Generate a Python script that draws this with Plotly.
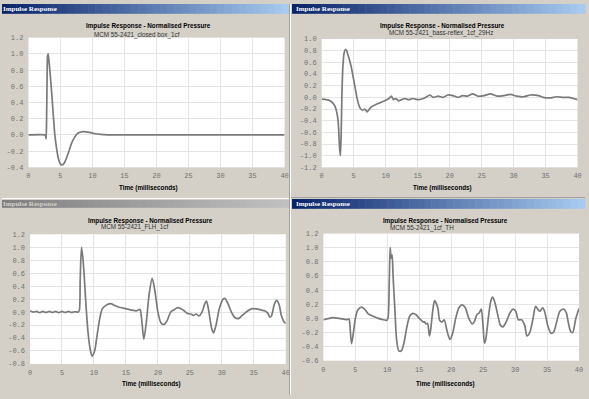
import plotly.graph_objects as go

W, H = 589, 399

# ---------------- data ----------------
t_closed = [0, 2.6, 2.7, 2.76, 2.82, 2.9, 2.98, 3.08, 3.16, 3.3, 3.45, 3.65, 3.85, 4.1, 4.4, 4.7, 5.0, 5.3, 5.65,
            6.2, 6.7, 7.2, 7.7, 8.5, 9.3, 10.3, 11.3, 12.3, 40]
p_closed = [0, 0, -0.02, -0.05, 0.1, 0.6, 0.97, 1.0, 0.95, 0.84, 0.7, 0.5, 0.28, 0.02, -0.17, -0.3, -0.36, -0.37, -0.34,
            -0.23, -0.11, -0.03, 0.02, 0.04, 0.035, 0.018, 0.006, 0.0, 0.0]

t_reflex = [0, 0.7, 1.3, 1.75, 2.1, 2.4, 2.6, 2.8, 2.93, 3.05, 3.15, 3.3, 3.5, 3.7, 3.9, 4.1, 4.4, 4.6, 4.9, 5.2,
            5.5, 5.8, 6.1, 6.4, 6.7, 6.9, 7.1, 7.4, 7.8, 8.3, 8.9, 9.4, 10.0, 10.5, 10.9, 11.2, 11.6, 12.0, 12.5,
            13.0, 13.6, 14.2, 15.1, 16.1, 16.9, 17.4, 18.2, 19.0, 19.7, 20.5, 21.3, 22.0, 22.8, 23.6, 24.4, 25.4,
            26.4, 27.4, 28.5, 29.5, 30.5, 31.6, 32.6, 33.9, 34.6, 35.7, 36.7, 37.7, 38.7, 40]
p_reflex = [-0.03, -0.04, -0.06, -0.1, -0.16, -0.28, -0.45, -0.88, -1.0, -0.6, 0.0, 0.5, 0.76, 0.82, 0.8, 0.73,
            0.62, 0.53, 0.36, 0.18, 0.0, -0.13, -0.2, -0.22, -0.2, -0.22, -0.25, -0.21, -0.16, -0.13, -0.1, -0.08,
            -0.05, -0.02, 0.02, -0.04, -0.02, -0.06, -0.04, -0.02, -0.04, -0.02, -0.04, -0.01, 0.04, 0.0, 0.02,
            0.0, 0.04, 0.03, 0.0, 0.03, 0.02, 0.06, 0.02, 0.03, 0.06, 0.02, 0.03, 0.05, 0.02, 0.01, 0.04, 0.03,
            0.0, -0.01, 0.01, 0.0, 0.0, -0.04]

t_flh = [0, 0.5, 1.0, 1.5, 2.0, 2.5, 3.0, 3.5, 4.0, 4.5, 5.0, 5.5, 6.0, 6.5, 7.0, 7.5, 7.7, 7.85, 8.05, 8.25,
         8.45, 8.76, 9.06, 9.37, 9.7, 10.1, 10.5, 10.9, 11.3, 11.8, 12.6, 13.3, 14.1, 15.1, 15.9, 16.7, 17.2,
         17.45, 17.8, 18.2, 18.6, 19.1, 19.5, 20.0, 20.5, 21.0, 21.5, 22.0, 22.6, 23.1, 23.6, 24.1, 24.6, 25.1,
         25.6, 26.0, 26.4, 26.9, 27.3, 27.6, 27.9, 28.4, 28.7, 29.1, 29.6, 30.2, 30.5, 31.0, 31.5, 32.0, 32.6,
         33.1, 33.8, 34.6, 35.4, 36.2, 36.7, 37.2, 37.5, 37.8, 38.2, 38.6, 39.0, 39.3, 39.8, 40]
p_flh = [0.02, 0.0, 0.01, -0.01, 0.01, -0.005, 0.01, -0.005, 0.01, -0.01, 0.01, -0.005, 0.01, -0.005, 0.005,
         0.0, 0.02, 0.5, 1.0, 0.85, 0.6, 0.1, -0.3, -0.55, -0.68, -0.6, -0.35, -0.1, 0.05, 0.1, 0.13, 0.1, 0.07,
         0.05, 0.03, 0.02, 0.04, -0.1, -0.42, -0.15, 0.25, 0.52, 0.35, 0.0, -0.17, -0.19, -0.12, 0.0, 0.04, 0.07,
         0.05, 0.02, -0.02, -0.03, -0.05, -0.03, -0.06, 0.0, 0.12, 0.17, 0.05, -0.25, -0.32, -0.2, 0.05, 0.2,
         0.21, 0.12, 0.0, -0.08, -0.1, -0.06, 0.0, 0.05, 0.05, 0.03, 0.02, -0.02, -0.08, -0.05, 0.12, 0.18, 0.1,
         -0.05, -0.16, -0.17]

t_th = [0, 0.9, 1.4, 2.4, 3.2, 3.7, 4.0, 4.15, 4.4, 4.7, 5.0, 5.4, 6.0, 6.55, 7.06, 7.8, 8.6, 9.4, 9.9, 10.1,
        10.3, 10.45, 10.6, 10.75, 10.9, 11.2, 11.45, 11.8, 12.2, 12.6, 13.0, 13.5, 14.0, 14.5, 15.0, 15.6, 15.8,
        16.1, 16.3, 16.6, 16.8, 17.1, 17.4, 17.9, 18.2, 18.6, 18.9, 19.4, 19.8, 20.2, 20.7, 21.2, 21.7, 22.2,
        22.75, 23.3, 23.6, 24.0, 24.4, 24.7, 24.97, 25.2, 25.4, 25.8, 26.2, 26.5, 26.9, 27.4, 27.7, 28.1, 28.6,
        29.2, 29.7, 30.1, 30.5, 31.0, 31.5, 31.85, 32.3, 32.8, 33.2, 33.6, 33.9, 34.3, 34.6, 35.1, 35.6, 36.0,
        36.5, 37.0, 37.6, 38.0, 38.3, 38.7, 39.0, 39.5, 40]
p_th = [-0.02, 0.0, 0.01, 0.0, -0.01, -0.02, -0.01, -0.1, -0.36, -0.2, 0.0, 0.12, 0.16, 0.12, 0.06, 0.03, 0.0,
        -0.02, -0.03, 0.0, 0.5, 1.0, 0.85, 0.9, 0.6, 0.1, -0.3, -0.46, -0.46, -0.35, -0.15, 0.03, 0.07, 0.05, 0.0,
        -0.05, -0.05, -0.08, -0.07, -0.25, -0.15, 0.1, 0.25, 0.15, -0.03, -0.05, -0.02, -0.2, -0.3, -0.22, 0.0,
        0.15, 0.19, 0.15, 0.0, -0.08, -0.05, 0.05, 0.08, 0.13, -0.1, -0.35, -0.3, 0.0, 0.25, 0.3, 0.2, 0.0, -0.1,
        -0.12, -0.05, 0.08, 0.13, 0.1, -0.02, -0.02, -0.1, -0.25, -0.2, 0.0, 0.17, 0.12, 0.1, 0.15, 0.1, -0.1,
        -0.21, -0.2, -0.05, 0.1, 0.13, 0.08, -0.05, -0.19, -0.2, 0.0, 0.14]

x_ticks = [0, 5, 10, 15, 20, 25, 30, 35, 40]
x_tick_text = ["0", "5", "10", "15", "20", "25", "30", "35", "40"]
y_ticks_1 = [-0.4, -0.2, 0.0, 0.2, 0.4, 0.6, 0.8, 1.0, 1.2]
y_ticks_2 = [-1.2, -1.0, -0.8, -0.6, -0.4, -0.2, 0.0, 0.2, 0.4, 0.6, 0.8, 1.0]
y_ticks_3 = [-0.8, -0.6, -0.4, -0.2, 0.0, 0.2, 0.4, 0.6, 0.8, 1.0, 1.2]
y_ticks_4 = [-0.6, -0.4, -0.2, 0.0, 0.2, 0.4, 0.6, 0.8, 1.0, 1.2]

chart_title = "Impulse Response - Normalised Pressure"
window_title = "Impulse Response"
x_title = "Time (milliseconds)"
subtitles = ["MCM 55-2421_closed box_1cf", "MCM 55-2421_bass-reflex_1cf_29Hz",
             "MCM 55-2421_FLH_1cf", "MCM 55-2421_1cf_TH"]


def fmt(v):
    return "%.1f" % v


def px(x):
    return x / W


def py(y):
    return 1 - y / H


# panel geometry in pixels: left, right, top, bottom
panels = [
    dict(l=26.7, r=285.5, t=34.3, b=166.7, yt=y_ticks_1, tx=147.7, ty=22, sx=90.7, sy=32, ax=147.7, ay=187.7, sm=0.5),
    dict(l=323.0, r=581.5, t=35.7, b=166.7, yt=y_ticks_2, tx=445, ty=22.7, sx=389, sy=30, ax=444.7, ay=187.7, sm=0.5),
    dict(l=28.3, r=286.7, t=235.0, b=367.3, yt=y_ticks_3, tx=150, ty=221.7, sx=98, sy=227.5, ax=150.7, ay=387.3, sm=0.75),
    dict(l=324.7, r=583.0, t=234.3, b=364.0, yt=y_ticks_4, tx=448, ty=221.7, sx=390, sy=228.5, ax=448, ay=387.3, sm=0.75),
]
series = [(t_closed, p_closed), (t_reflex, p_reflex), (t_flh, p_flh), (t_th, p_th)]

fig = go.Figure()
layout = dict(width=W, height=H, margin=dict(l=0, r=0, t=0, b=0), paper_bgcolor="#d4d0c8",
              plot_bgcolor="#ffffff", showlegend=False)
annotations = []
shapes = []

TICKFONT = dict(family="Liberation Mono, DejaVu Sans Mono, monospace", size=7, color="#707070")
SANS = "Liberation Sans Narrow, Liberation Sans, Arial, sans-serif"

for i, (pan, (tx, ty)) in enumerate(zip(panels, series)):
    n = "" if i == 0 else str(i + 1)
    fig.add_trace(go.Scatter(x=tx, y=ty, mode="lines", xaxis="x" + n, yaxis="y" + n,
                             line=dict(color="#7a7a7a", width=1.7, shape="spline", smoothing=pan["sm"]),
                             hoverinfo="skip"))
    yt = pan["yt"]
    layout["xaxis" + n] = dict(domain=[px(pan["l"]), px(pan["r"])], anchor="y" + n, range=[0, 40],
                               tickvals=x_ticks, ticktext=x_tick_text, showgrid=True, gridcolor="#e4e4e4",
                               gridwidth=1, zeroline=False, showline=False, ticks="", tickfont=TICKFONT,
                               ticklabelstandoff=3, ticklabeloverflow="allow", fixedrange=True)
    layout["yaxis" + n] = dict(domain=[py(pan["b"]), py(pan["t"])], anchor="x" + n, range=[yt[0], yt[-1]],
                               tickvals=yt, ticktext=[fmt(v) for v in yt], showgrid=True, gridcolor="#e4e4e4",
                               gridwidth=1, zeroline=False, showline=False, ticks="", tickfont=TICKFONT,
                               ticklabelstandoff=4, ticklabeloverflow="allow", fixedrange=True)
    annotations.append(dict(text="<b>%s</b>" % chart_title, x=px(pan["tx"]), y=py(pan["ty"]), xref="paper",
                            yref="paper", xanchor="center", yanchor="middle", showarrow=False,
                            font=dict(family=SANS, size=6.3, color="#000000")))
    annotations.append(dict(text=subtitles[i], x=px(pan["sx"]), y=py(pan["sy"]), xref="paper", yref="paper",
                            xanchor="left", yanchor="middle", showarrow=False,
                            font=dict(family=SANS, size=6.3, color="#333333")))
    annotations.append(dict(text="<b>%s</b>" % x_title, x=px(pan["ax"]), y=py(pan["ay"]), xref="paper",
                            yref="paper", xanchor="center", yanchor="middle", showarrow=False,
                            font=dict(family=SANS, size=6.3, color="#000000")))


def hexrgb(h):
    h = h.lstrip("#")
    return tuple(int(h[k:k + 2], 16) for k in (0, 2, 4))


def gradient_bar(x0, x1, y0, y1, c0, c1, nb=40):
    a, b = hexrgb(c0), hexrgb(c1)
    w = (x1 - x0) / nb
    for k in range(nb):
        f = k / (nb - 1)
        col = "rgb(%d,%d,%d)" % tuple(round(a[j] + (b[j] - a[j]) * f) for j in range(3))
        shapes.append(dict(type="rect", xref="paper", yref="paper", x0=px(x0 + k * w), x1=px(x0 + (k + 1) * w + 0.5),
                           y0=py(y1), y1=py(y0), fillcolor=col, line=dict(width=0), layer="below"))


# window title bars
gradient_bar(0, 290, 0, 10, "#0a246a", "#a6caf0")
gradient_bar(293, 589, 0, 10, "#0a246a", "#a6caf0")
gradient_bar(0, 290, 200, 208, "#808080", "#c0c0c0")
gradient_bar(293, 589, 199, 209, "#0a246a", "#a6caf0")

# window borders
shapes.append(dict(type="line", xref="paper", yref="paper", x0=px(291.5), x1=px(291.5), y0=0, y1=1,
                   line=dict(color="#ffffff", width=1)))
shapes.append(dict(type="line", xref="paper", yref="paper", x0=px(290.5), x1=px(290.5), y0=0, y1=1,
                   line=dict(color="#a0a0a0", width=1)))
shapes.append(dict(type="line", xref="paper", yref="paper", x0=0, x1=px(290), y0=py(198.5), y1=py(198.5),
                   line=dict(color="#ffffff", width=1)))
shapes.append(dict(type="line", xref="paper", yref="paper", x0=px(292), x1=1, y0=py(197.5), y1=py(197.5),
                   line=dict(color="#a0a0a0", width=1)))

WT = "Liberation Serif, DejaVu Serif, serif"
for (x, y, c) in [(-1.5, 5, "#ffffff"), (295, 5, "#ffffff"), (-1.5, 204, "#d4d0c8"), (295, 204, "#ffffff")]:
    annotations.append(dict(text="<b>%s</b>" % window_title, x=px(x), y=py(y), xref="paper", yref="paper",
                            xanchor="left", yanchor="middle", showarrow=False, font=dict(family=WT, size=7, color=c)))

layout["annotations"] = annotations
layout["shapes"] = shapes
fig.update_layout(**layout)
fig.write_html("out.html", config={"displayModeBar": False, "staticPlot": True},
               post_script="document.body.style.margin='0';document.body.style.padding='0';"
                           "document.body.style.overflow='hidden';")
